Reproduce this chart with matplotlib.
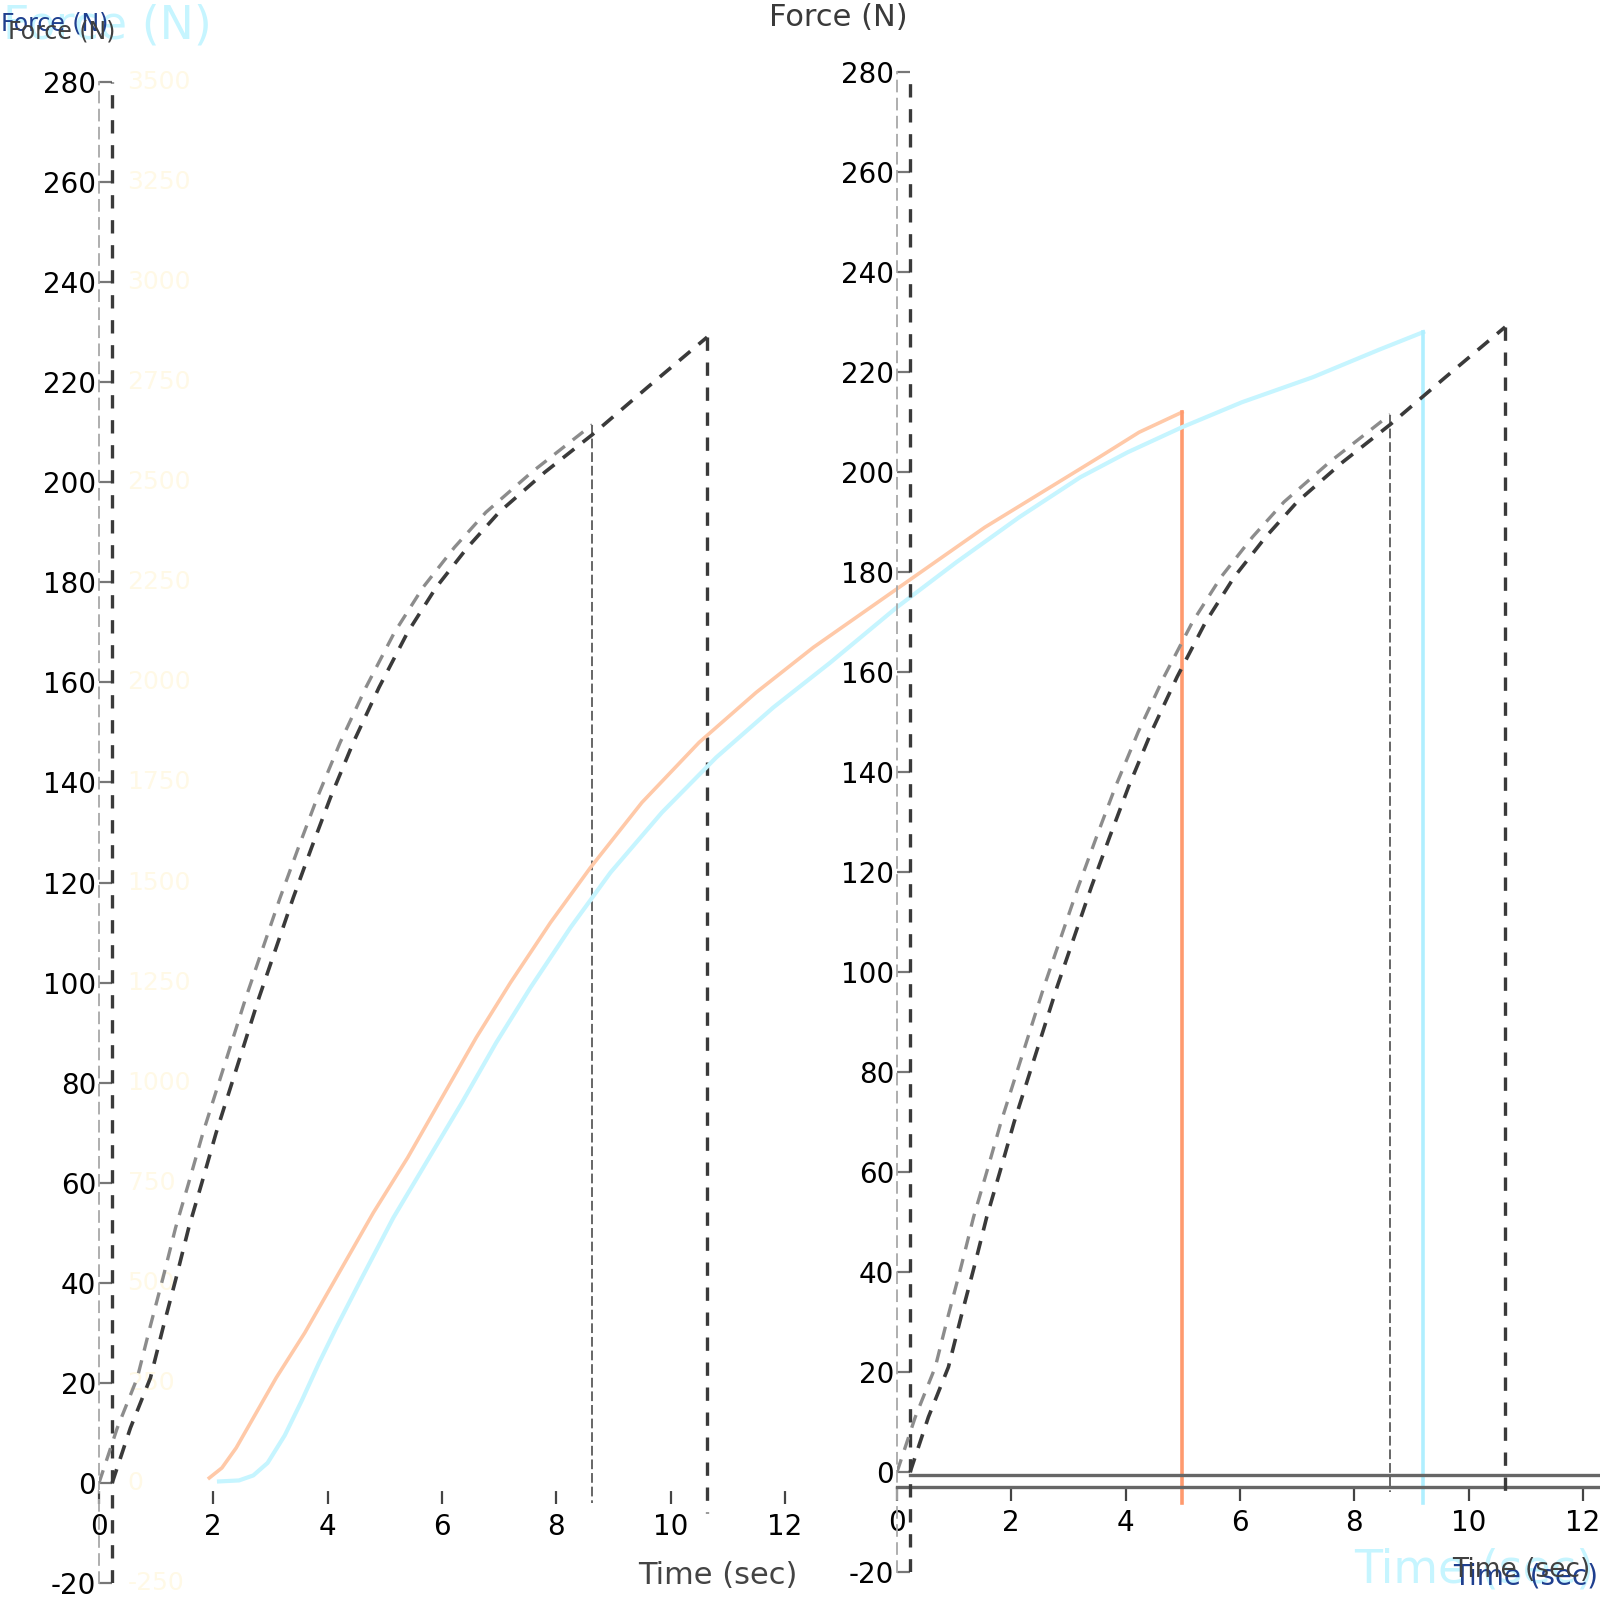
import matplotlib
matplotlib.use("Agg")
import matplotlib.pyplot as plt
from matplotlib.transforms import blended_transform_factory

# ---------------- data ----------------
force_ticks = [-20, 0, 20, 40, 60, 80, 100, 120, 140, 160, 180, 200, 220, 240, 260, 280]
pale_tick_labels = ["-250", "0", "250", "500", "750", "1000", "1250", "1500", "1750",
                    "2000", "2250", "2500", "2750", "3000", "3250", "3500"]
time_ticks = [0, 2, 4, 6, 8, 10, 12]

# dark dashed trace (time s, force N)
dark_time = [0.23, 0.55, 0.9, 1.12, 1.35, 1.57, 1.8, 2.05, 2.3, 2.55, 2.8, 3.1, 3.4,
             3.72, 4.05, 4.45, 4.9, 5.4, 5.9, 6.45, 7.0, 7.8, 8.63, 9.6, 10.64]
dark_force = [0, 11, 21, 31, 41, 51, 60, 70, 79, 88, 97, 107, 117,
              127, 137, 148, 159, 170, 179, 187, 194, 202, 209.5, 219, 229]

# light grey dashed trace
gray_time = [0.0, 0.32, 0.67, 0.89, 1.12, 1.34, 1.57, 1.82, 2.07, 2.32, 2.57, 2.87,
             3.17, 3.49, 3.82, 4.22, 4.67, 5.17, 5.67, 6.22, 6.77, 7.57, 8.63]
gray_force = [0, 11, 21, 31, 41, 51, 60, 70, 79, 88, 97, 107,
              117, 127, 137, 148, 159, 170, 179, 187, 194, 202, 211.5]

# orange trace (drawn in the left panel's scale, not clipped)
orange_time = [1.93, 2.15, 2.4, 2.7, 3.1, 3.6, 4.2, 4.8, 5.4, 6.0, 6.6, 7.2, 7.9, 8.6,
               9.5, 10.5, 11.5, 12.5, 13.5, 14.5, 15.5, 16.5, 17.5, 18.2, 18.95]
orange_force = [1, 3, 7, 13, 21, 30, 42, 54, 65, 77, 89, 100, 112, 123,
                136, 148, 158, 167, 175, 183, 191, 198, 205, 210, 214]

# cyan trace
cyan_time = [2.10, 2.45, 2.7, 2.95, 3.25, 3.55, 3.85, 4.15, 4.6, 5.15, 5.75, 6.35,
             6.95, 7.55, 8.25, 8.95, 9.85, 10.8, 11.8, 12.8, 13.96, 15.0, 16.1,
             17.17, 18.0, 18.95, 20.0, 21.24, 22.4, 23.17]
cyan_force = [0.3, 0.5, 1.5, 4, 9.5, 16.5, 24, 31, 41, 53, 64.5, 76,
              88, 99, 111, 122, 134, 145, 155, 164, 175, 184, 193,
              201, 206, 211, 216, 221, 226.5, 230]

drop_floor = -4.0

# ---------------- figure ----------------
W = H = 1600
fig = plt.figure(figsize=(16, 16), dpi=100)
fig.patch.set_facecolor("white")
PX = 57.15  # pixels per second on both panels


def rect(x0, y_top, x1, y_bot):
    return [x0 / W, 1 - y_bot / H, (x1 - x0) / W, (y_bot - y_top) / H]


axL = fig.add_axes(rect(99, 82, 99 + 12.3 * PX, 1583))
axR = fig.add_axes(rect(897, 72, 1600, 1572))

DARK = "#3a3a3a"
LIGHT = "#a8a8a8"

for ax in (axL, axR):
    ax.set_xlim(0, 12.3)
    ax.set_ylim(-20, 280)
    ax.patch.set_alpha(0)
    for s in ("top", "right"):
        ax.spines[s].set_visible(False)
    ax.spines["left"].set_color(LIGHT)
    ax.spines["left"].set_linewidth(1.3)
    ax.spines["left"].set_linestyle((0, (6, 4)))
    ax.set_yticks(force_ticks)
    ax.set_yticklabels([str(v) for v in force_ticks])
    ax.set_xticks(time_ticks)
    ax.set_xticklabels([str(v) for v in time_ticks])
    ax.tick_params(axis="y", direction="in", length=9.4, width=1.6, color="#777777",
                   labelsize=20, pad=2, labelcolor="black")
    ax.tick_params(axis="x", direction="out", length=10, width=1.6, color="#444444",
                   labelsize=20, pad=6, labelcolor="black")
    # second (dark) dashed vertical axis line, shifted right
    ax.axvline(0.23, ymin=0.0, ymax=1.0, color=DARK, lw=2.4, ls=(0, (4, 3.5)), zorder=3)

    # dashed traces
    ax.plot(gray_time, gray_force, color="#8c8c8c", lw=2.4, ls=(0, (4, 3)), zorder=4)
    ax.plot(dark_time, dark_force, color=DARK, lw=2.6, ls=(0, (4, 3)), zorder=5)
    ax.plot([gray_time[-1], gray_time[-1]], [gray_force[-1], drop_floor],
            color="#666666", lw=1.4, ls=(0, (5, 2)), zorder=4)
    ax.plot([dark_time[-1], dark_time[-1]], [dark_force[-1], drop_floor - 2],
            color=DARK, lw=2.4, ls=(0, (4, 3.5)), zorder=5)

# left panel: invisible baseline with ticks
axL.spines["bottom"].set_position(("data", -1.5))
axL.spines["bottom"].set_color("white")

# right panel: two grey baselines
axR.spines["bottom"].set_position(("data", -3.0))
axR.spines["bottom"].set_color("#666666")
axR.spines["bottom"].set_linewidth(2.4)
axR.axhline(-0.5, xmin=0.23 / 12.3, xmax=1.0, color="#666666", lw=2.4, zorder=3,
            clip_on=False)

# orange and cyan traces (left panel scale, spilling into right panel)
axL.plot(orange_time, orange_force, color="#ffc9a8", lw=2.6, zorder=6, clip_on=False)
axL.plot([orange_time[-1], orange_time[-1]], [orange_force[-1], drop_floor],
         color="#ff9a6e", lw=2.6, zorder=6, clip_on=False)
axL.plot(cyan_time, cyan_force, color="#c6f5ff", lw=3.0, zorder=6, clip_on=False)
axL.plot([cyan_time[-1], cyan_time[-1]], [cyan_force[-1], drop_floor],
         color="#b0efff", lw=2.6, zorder=6, clip_on=False)

# pale secondary labels next to the left axis
tr = blended_transform_factory(axL.transData, axL.transData)
for v, lab in zip(force_ticks, pale_tick_labels):
    axL.text(0.5, v, lab, color="#fff9e6", fontsize=18, ha="left", va="center",
             transform=tr, zorder=2)

# ---------------- texts ----------------
def ftext(x, y, s, **kw):
    fig.text(x / W, 1 - y / H, s, **kw)

# top-left axis title (overlapping copies)
ftext(212, 26, "Force (N)", color="#c6f5ff", fontsize=33, ha="right", va="center",
      zorder=1)
ftext(1, 24, "Force (N)", color="#1f3f8f", fontsize=17, ha="left", va="center",
      zorder=3)
ftext(8, 31, "Force (N)", color="#404040", fontsize=17, ha="left", va="center",
      zorder=4)

# top of right panel
ftext(908, 18, "Force (N)", color="#3a3a3a", fontsize=22, ha="right", va="center")

# bottom-left x label
ftext(798, 1576, "Time (sec)", color="#444444", fontsize=22, ha="right", va="center")

# bottom-right x label (overlapping copies)
ftext(1594, 1570, "Time (sec)", color="#c6f5ff", fontsize=33, ha="right", va="center",
      zorder=1)
ftext(1598, 1576, "Time (sec)", color="#1f3f8f", fontsize=20, ha="right", va="center",
      zorder=3)
ftext(1590, 1570, "Time (sec)", color="#404040", fontsize=19, ha="right", va="center",
      zorder=4)

fig.savefig("out.png", dpi=100, facecolor="white")
